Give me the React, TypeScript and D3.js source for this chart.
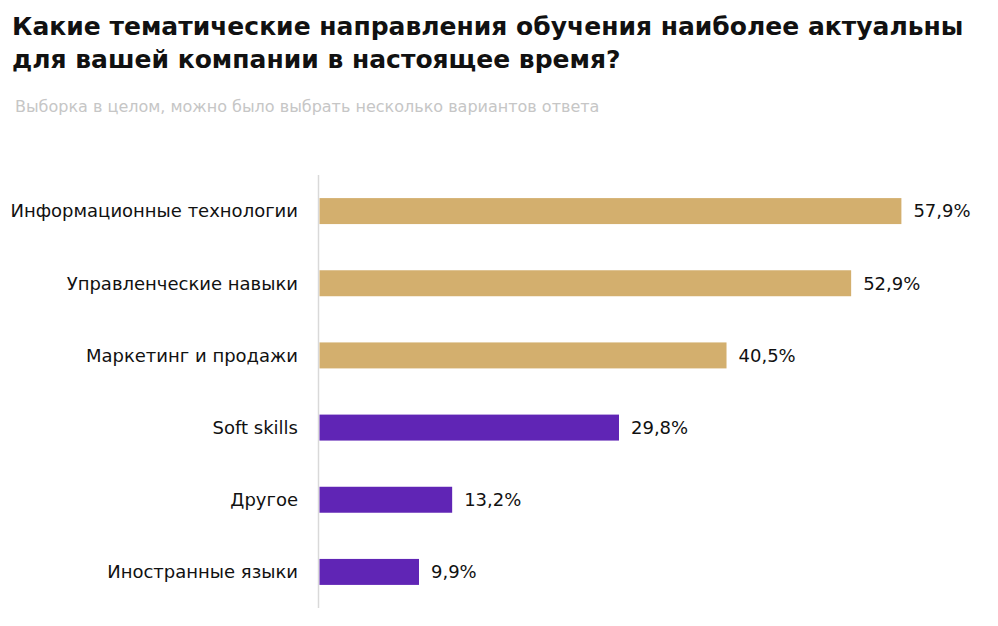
import React, { useRef, useEffect } from 'react';
import * as d3 from 'd3';

const categories = [
  'Информационные технологии',
  'Управленческие навыки',
  'Маркетинг и продажи',
  'Soft skills',
  'Другое',
  'Иностранные языки',
];
const values = [57.9, 52.9, 40.5, 29.8, 13.2, 9.9];
const groups = ['gold', 'gold', 'gold', 'purple', 'purple', 'purple'];

const titleLines = [
  'Какие тематические направления обучения наиболее актуальны',
  'для вашей компании в настоящее время?',
];
const subtitle = 'Выборка в целом, можно было выбрать несколько вариантов ответа';

const FONT = '"DejaVu Sans", sans-serif';

const App: React.FC = () => {
  const svgRef = useRef<SVGSVGElement | null>(null);

  useEffect(() => {
    if (!svgRef.current) return;
    const svg = d3.select(svgRef.current);
    svg.selectAll('*').remove();

    const left = 319.5;
    const top = 175;
    const bottom = 608;

    const x = d3.scaleLinear().domain([0, 60]).range([left, left + 603]);
    const y = d3.scaleBand()
      .domain(categories)
      .range([top, bottom])
      .paddingInner(0.64)
      .paddingOuter(0.32);
    const color = d3.scaleOrdinal<string>()
      .domain(['gold', 'purple'])
      .range(['#D3AF6E', '#6025B5']);

    const data = categories.map((c, i) => ({ c, v: values[i], g: groups[i] }));

    // title
    const title = svg.append('text')
      .attr('font-family', FONT)
      .attr('font-weight', 700)
      .attr('font-size', 25)
      .attr('fill', '#111');
    titleLines.forEach((t, i) => {
      title.append('tspan').attr('x', 12).attr('y', 35 + i * 33).text(t);
    });

    svg.append('text')
      .attr('x', 15)
      .attr('y', 112)
      .attr('font-family', FONT)
      .attr('font-size', 16)
      .attr('fill', '#c6c6c6')
      .text(subtitle);

    // axis line
    svg.append('line')
      .attr('x1', left - 1).attr('x2', left - 1)
      .attr('y1', top).attr('y2', bottom)
      .attr('stroke', '#d9d9d9')
      .attr('stroke-width', 1.5);

    svg.append('g').selectAll('rect')
      .data(data)
      .join('rect')
      .attr('x', x(0))
      .attr('y', d => y(d.c)!)
      .attr('width', d => x(d.v) - x(0))
      .attr('height', y.bandwidth())
      .attr('fill', d => color(d.g));

    svg.append('g').selectAll('text')
      .data(data)
      .join('text')
      .attr('x', 298)
      .attr('y', d => y(d.c)! + y.bandwidth() / 2)
      .attr('dy', '0.35em')
      .attr('text-anchor', 'end')
      .attr('font-family', FONT)
      .attr('font-size', 18)
      .attr('fill', '#111')
      .text(d => d.c);

    svg.append('g').selectAll('text')
      .data(data)
      .join('text')
      .attr('x', d => x(d.v) + 12)
      .attr('y', d => y(d.c)! + y.bandwidth() / 2)
      .attr('dy', '0.35em')
      .attr('font-family', FONT)
      .attr('font-size', 18)
      .attr('fill', '#111')
      .text(d => d.v.toFixed(1).replace('.', ',') + '%');
  }, []);

  return (
    <svg ref={svgRef} width={998} height={626}
      style={{ position: 'absolute', left: 0, top: 0, background: '#fff' }} />
  );
};

export default App;
